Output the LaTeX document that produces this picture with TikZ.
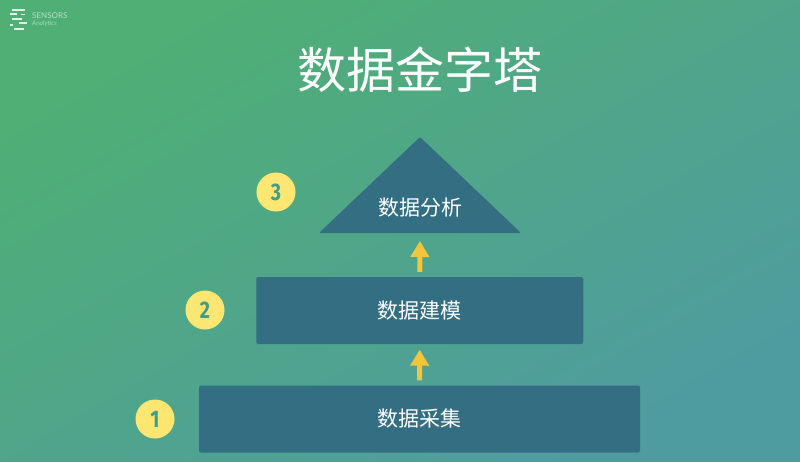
\documentclass[tikz,border=0pt]{standalone}
\usepackage{fontspec}
\setmainfont{Noto Sans CJK SC}
\newfontfamily\numfont{Fira Sans}
\newfontfamily\logofont{Lato}
\usetikzlibrary{arrows.meta}
\definecolor{bgA}{HTML}{4FAF74}
\definecolor{bgB}{HTML}{4F9CA0}
\definecolor{blk}{HTML}{336E82}
\definecolor{ball}{HTML}{FEE672}
\definecolor{numc}{HTML}{3F9E88}
\definecolor{arr}{HTML}{F2C53A}
\tikzset{
  x=1pt,y=-1pt,
  block/.style={fill=blk,rounded corners=2pt,inner sep=0pt,text=white,font=\fontsize{21}{24}\selectfont},
  lbl/.style={text=white,inner sep=0pt,font=\fontsize{21}{24}\selectfont},
  badge/.style={circle,fill=ball,inner sep=0pt,minimum size=39pt,text=numc,font=\numfont\bfseries\fontsize{24}{26}\selectfont},
  uparrow/.style={draw=arr,line width=5pt,-{Triangle[length=16pt,width=18pt]}},
  logobar/.style={fill=white,opacity=.85}
}
\begin{document}
\begin{tikzpicture}
\useasboundingbox (0,0) rectangle (800,461);
\shade[shading=axis,left color=bgA,right color=bgB,shading angle=30] (0,0) rectangle (800,461);
% logo
\fill[logobar] (12,9) rectangle (25,11);
\fill[logobar] (10,13) rectangle (17,15);
\fill[logobar] (21,13.5) rectangle (25,15);
\fill[logobar] (12,18) rectangle (22,20);
\fill[logobar] (19,21.5) rectangle (27,23.5);
\fill[logobar] (10,24) rectangle (13,25.5);
\fill[logobar] (14,28) rectangle (24,30);
\node[anchor=west,inner sep=0pt,text=white,opacity=.6,font=\logofont\fontsize{8}{9}\selectfont] (logoa) at (32,16) {SENSORS};
\node[anchor=west,inner sep=0pt,text=white,opacity=.5,font=\logofont\itshape\fontsize{6.5}{7}\selectfont] (logob) at (32,24) {Analytics};
% title
\node[text=white,inner sep=0pt,font=\fontsize{49}{52}\selectfont] (title) at (420,70) {数据金字塔};
% blocks
\fill[blk,rounded corners=1pt] (420,137) -- (521,233) -- (319,233) -- cycle;
\coordinate (tribase) at (420,233);
\node[lbl] (top) at (420.3,208) {数据分析};
\node[block,minimum width=327pt,minimum height=67pt] (mid) at (419.75,310.5) {\raisebox{-1pt}{数据建模}};
\node[block,minimum width=441pt,minimum height=67pt] (bot) at (419.5,419) {\raisebox{-1pt}{数据采集}};
% arrows
\draw[uparrow,shorten <=5pt,shorten >=8pt] (mid.north) -- (tribase);
\draw[uparrow,shorten <=5pt,shorten >=5.5pt] (bot.north) -- (mid.south);
% badges
\node[badge] (n1) at (155,419) {\scalebox{.82}[1]{1}};
\node[badge] (n2) at (205,310) {\scalebox{.82}[1]{2}};
\node[badge] (n3) at (276,192) {\scalebox{.82}[1]{3}};
\end{tikzpicture}
\end{document}
